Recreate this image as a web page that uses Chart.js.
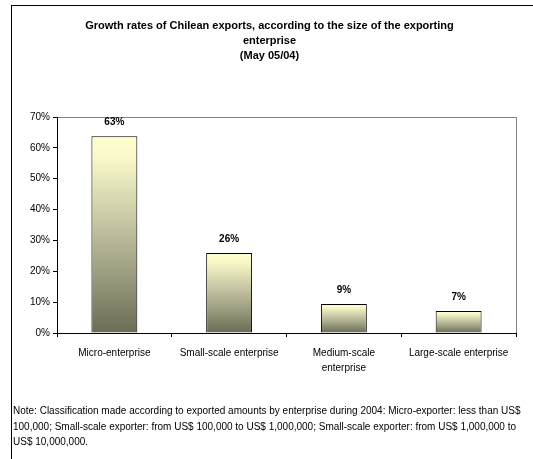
<!DOCTYPE html>
<html>
<head>
<meta charset="utf-8">
<script src="https://cdn.jsdelivr.net/npm/chart.js@4.4.0/dist/chart.umd.min.js"></script>
<style>
  body { margin: 0; background: #fff; }
  #wrap { position: relative; width: 533px; height: 459px; overflow: hidden; }
  #chartTitle {
    position: absolute; left: 0; top: 18px; width: 539px;
    text-align: center; font: bold 11px "Liberation Sans", Arial, sans-serif;
    line-height: 15px; color: #000;
  }
  #chartNote {
    position: absolute; left: 13px; top: 403px; width: 530px;
    font: 10px "Liberation Sans", Arial, sans-serif; line-height: 15.5px;
    color: #000; white-space: nowrap;
  }
</style>
</head>
<body>
<div id="wrap">
  <canvas id="chartExportaciones" width="533" height="459"></canvas>
  <div id="chartTitle">Growth rates of Chilean exports, according to the size of the exporting<br>enterprise<br>(May 05/04)</div>
  <div id="chartNote">Note: Classification made according to exported amounts by enterprise during 2004: Micro-exporter: less than US$<br>100,000; Small-scale exporter: from US$ 100,000 to US$ 1,000,000; Small-scale exporter: from US$ 1,000,000 to<br>US$ 10,000,000.</div>
</div>
<script>
// ============================
// DADOS
// ============================
const categorias = ['Micro-enterprise', 'Small-scale enterprise', ['Medium-scale', 'enterprise'], 'Large-scale enterprise'];
const crescimento = [63.8, 25.9, 9.4, 7.1];
const rotulos = ['63%', '26%', '9%', '7%'];
const yMax = 70;
const yStep = 10;

const fonte = '"Liberation Sans", Arial, sans-serif';

// gradiente por barra (claro em cima, escuro embaixo)
function gradienteBarra(c) {
    const chart = c.chart;
    if (!chart.chartArea || c.type !== 'data') return '#c8c8a4';
    const y = chart.scales.y;
    const topo = y.getPixelForValue(c.raw);
    const base = y.getPixelForValue(0);
    const g = chart.ctx.createLinearGradient(0, topo, 0, base);
    g.addColorStop(0, '#ffffcf');
    g.addColorStop(0.12, '#f7f7c8');
    g.addColorStop(0.5, '#bcbc9c');
    g.addColorStop(1, '#6c6c56');
    return g;
}

// moldura externa + moldura cinza da área do gráfico
const moldura = {
    id: 'moldura',
    beforeDraw(chart) {
        const ctx = chart.ctx;
        const a = chart.chartArea;
        ctx.save();
        ctx.strokeStyle = '#000';
        ctx.lineWidth = 1;
        ctx.strokeRect(11.5, 5.5, 700, 700);
        ctx.strokeStyle = '#808080';
        ctx.beginPath();
        ctx.moveTo(a.left, a.top + 0.5);
        ctx.lineTo(a.right + 0.5, a.top + 0.5);
        ctx.lineTo(a.right + 0.5, a.bottom);
        ctx.stroke();
        ctx.restore();
    }
};

// rótulos de valor acima das barras
const rotulosValor = {
    id: 'rotulosValor',
    afterDatasetsDraw(chart) {
        const ctx = chart.ctx;
        const meta = chart.getDatasetMeta(0);
        ctx.save();
        ctx.font = 'bold 10px ' + fonte;
        ctx.fillStyle = '#000';
        ctx.textAlign = 'center';
        ctx.textBaseline = 'middle';
        meta.data.forEach((bar, i) => {
            ctx.fillText(rotulos[i], bar.x, bar.y - 14);
        });
        ctx.restore();
    }
};

new Chart(document.getElementById('chartExportaciones').getContext('2d'), {
    type: 'bar',
    data: {
        labels: categorias,
        datasets: [{
            data: crescimento,
            backgroundColor: gradienteBarra,
            borderColor: '#000',
            borderWidth: 1,
            barPercentage: 0.4,
            categoryPercentage: 1
        }]
    },
    options: {
        responsive: false,
        animation: false,
        layout: { padding: { left: 12, right: 17, top: 117, bottom: 76 } },
        plugins: {
            legend: { display: false },
            tooltip: { enabled: false }
        },
        scales: {
            x: {
                grid: { drawOnChartArea: false, tickLength: 4, color: '#000', offset: true },
                border: { color: '#000', width: 1 },
                ticks: {
                    color: '#000', maxRotation: 0, autoSkip: false, padding: 9,
                    font: { family: fonte, size: 10, lineHeight: 1.5 }
                },
                afterFit: s => { s.height = 50; }
            },
            y: {
                min: 0,
                max: yMax,
                grid: { drawOnChartArea: false, tickLength: 4, color: '#000' },
                border: { color: '#000', width: 1 },
                ticks: {
                    stepSize: yStep, color: '#000', padding: 3,
                    font: { family: fonte, size: 10 },
                    callback: v => v + '%'
                },
                afterFit: s => { s.width = 45; }
            }
        }
    },
    plugins: [moldura, rotulosValor]
});
</script>
</body>
</html>
